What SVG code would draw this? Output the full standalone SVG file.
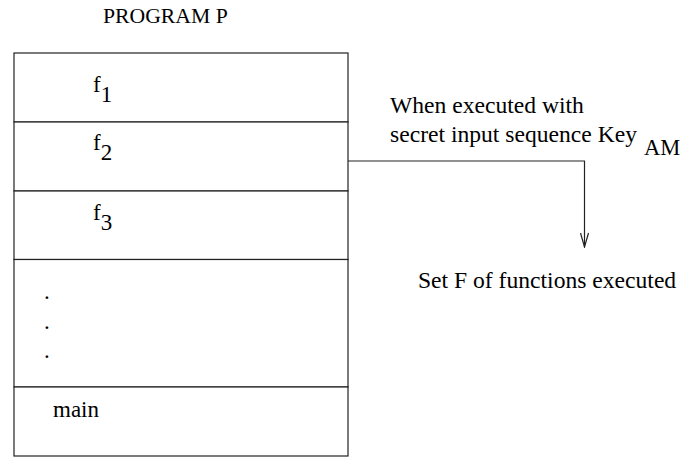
<svg xmlns="http://www.w3.org/2000/svg" width="681" height="457" viewBox="0 0 681 457">
  <style>
    text { font-family: "Liberation Serif", "Times New Roman", serif; fill: #000; }
    .lbl { font-size: 23px; }
    .big { font-size: 23.6px; }
    .cell { fill: #fff; stroke: #222; stroke-width: 1.2; }
    .wire { fill: none; stroke: #222; stroke-width: 1.2; }
  </style>
  <defs>
    <!-- open V arrowhead, drawn along +x so orient="auto" follows the line -->
    <marker id="vhead" viewBox="0 0 16 10" refX="15" refY="5" markerWidth="16" markerHeight="10" markerUnits="userSpaceOnUse" orient="auto">
      <path d="M1,1 L15,5 L1,9" fill="none" stroke="#222" stroke-width="1.2"/>
    </marker>
  </defs>
  <rect width="681" height="457" fill="#fff"/>

  <text id="title" x="103" y="22.7" font-size="21.7">PROGRAM P</text>

  <g id="program">
    <g id="f1">
      <rect class="cell" x="14" y="53" width="334" height="69"/>
      <text class="lbl" x="93" y="92">f<tspan dy="10">1</tspan></text>
    </g>
    <g id="f2">
      <rect class="cell" x="14" y="122" width="334" height="69"/>
      <text class="lbl" x="93" y="150">f<tspan dy="10">2</tspan></text>
    </g>
    <g id="f3">
      <rect class="cell" x="14" y="191" width="334" height="68.5"/>
      <text class="lbl" x="93" y="220">f<tspan dy="10">3</tspan></text>
    </g>
    <g id="ellipsis">
      <rect class="cell" x="14" y="259.5" width="334" height="127.5"/>
      <text class="lbl" x="44" y="299">.</text>
      <text class="lbl" x="44" y="329">.</text>
      <text class="lbl" x="44" y="358">.</text>
    </g>
    <g id="main">
      <rect class="cell" x="14" y="387" width="334" height="69"/>
      <text class="lbl" x="53" y="417">main</text>
    </g>
  </g>

  <g id="connectors">
    <path class="wire" d="M348,161 H584.5 V247" marker-end="url(#vhead)"/>
  </g>

  <g id="condition">
    <text class="big" x="390" y="113">When executed with</text>
    <text class="big" x="390" y="142" font-size="24">secret input sequence Key</text>
    <text x="644" y="155" font-size="22.5">AM</text>
  </g>

  <g id="result">
    <text class="big" x="418" y="288">Set F of functions executed</text>
  </g>
</svg>
